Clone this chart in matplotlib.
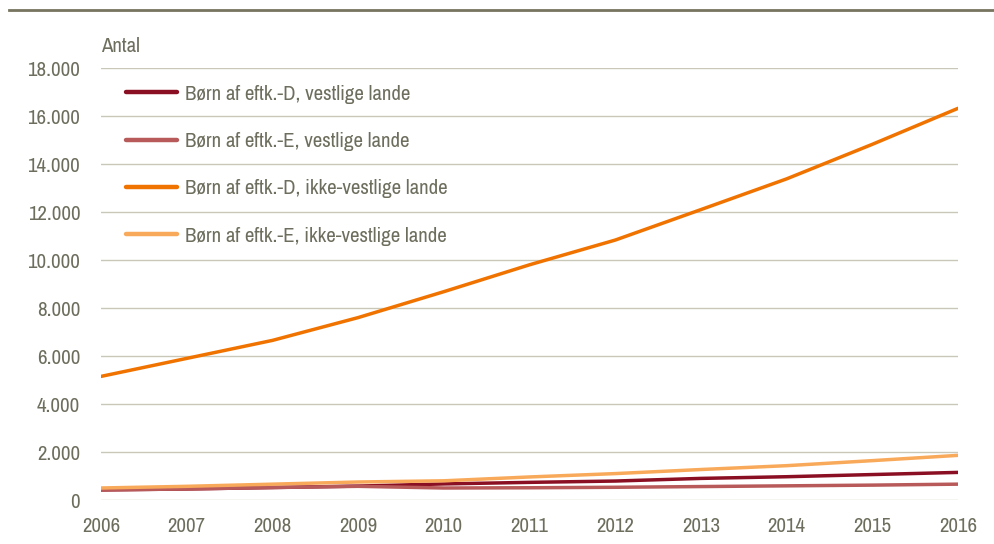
import matplotlib
matplotlib.use("Agg")
import matplotlib.pyplot as plt
from matplotlib import font_manager as fm
from matplotlib.lines import Line2D

years = [2006, 2007, 2008, 2009, 2010, 2011, 2012, 2013, 2014, 2015, 2016]
d_vest = [420, 460, 520, 580, 670, 735, 790, 900, 970, 1060, 1150]
e_vest = [420, 460, 520, 570, 500, 510, 530, 560, 590, 620, 660]
d_ikke = [5150, 5900, 6650, 7600, 8680, 9800, 10830, 12100, 13380, 14820, 16320]
e_ikke = [500, 570, 660, 750, 800, 960, 1100, 1270, 1430, 1640, 1860]
labels = ["Børn af eftk.-D, vestlige lande", "Børn af eftk.-E, vestlige lande",
          "Børn af eftk.-D, ikke-vestlige lande", "Børn af eftk.-E, ikke-vestlige lande"]
colors = ["#8b0f22", "#b85a5a", "#f07300", "#f9a95a"]
yticks = [0, 2000, 4000, 6000, 8000, 10000, 12000, 14000, 16000, 18000]
ytick_labels = ["0", "2.000", "4.000", "6.000", "8.000", "10.000", "12.000", "14.000", "16.000", "18.000"]

# pick a condensed font if available
cands = [f for f in fm.fontManager.ttflist
         if ('narrow' in f.name.lower() or 'condensed' in f.name.lower()
             or 'Condensed' in f.fname or 'Narrow' in f.fname)
         and f.weight in (400, 'normal', 'regular') and f.style == 'normal']
fp = None
for pref in ['Narrow', 'Condensed']:
    for f in cands:
        if pref in f.fname and 'Bold' not in f.fname and 'Oblique' not in f.fname and 'Italic' not in f.fname:
            fp = f.fname
            break
    if fp:
        break
if fp:
    prop = fm.FontProperties(fname=fp)
else:
    prop = fm.FontProperties(family='Liberation Sans')
tc = "#6e6e5e"
fs = 15

W, H = 994, 544
fig = plt.figure(figsize=(W/100, H/100), dpi=100)
ax = fig.add_axes([101/W, 1-500/H, (958-101)/W, (500-68)/H])

series = [d_vest, e_vest, d_ikke, e_ikke]
for s, c in zip(series, colors):
    ax.plot(years, s, color=c, lw=2.5, solid_capstyle='round', zorder=3)

ax.set_xlim(2006, 2016)
ax.set_ylim(0, 18000)
ax.set_yticks(yticks)
ax.set_yticklabels(ytick_labels, fontproperties=prop, fontsize=fs)
ax.set_xticks(years)
ax.set_xticklabels([str(y) for y in years], fontproperties=prop, fontsize=fs)
ax.grid(axis='y', color="#c9c8b8", lw=1.0)
ax.grid(axis='x', visible=False)
ax.set_axisbelow(True)
for sp in ax.spines.values():
    sp.set_visible(False)
ax.tick_params(axis='both', length=0, labelcolor=tc)
ax.tick_params(axis='y', pad=15)
ax.tick_params(axis='x', pad=12)

fig.text(101/W, 1-46/H, "Antal", fontproperties=prop, fontsize=fs, color=tc, ha='left', va='center')

handles = [Line2D([0], [0], color=c, lw=3.2, solid_capstyle='round') for c in colors]
lp = prop.copy()
lp.set_size(fs)
leg = ax.legend(handles, labels, loc='upper left', bbox_to_anchor=(0.019, 0.981),
                frameon=False, prop=lp, handlelength=2.45, handletextpad=0.4,
                labelspacing=1.36, borderaxespad=0)
for t in leg.get_texts():
    t.set_color(tc)

fig.add_artist(Line2D([9/W, 1], [1-10/H, 1-10/H], color="#77745f", lw=2.0))

fig.savefig("out.png", dpi=100, facecolor="white")
